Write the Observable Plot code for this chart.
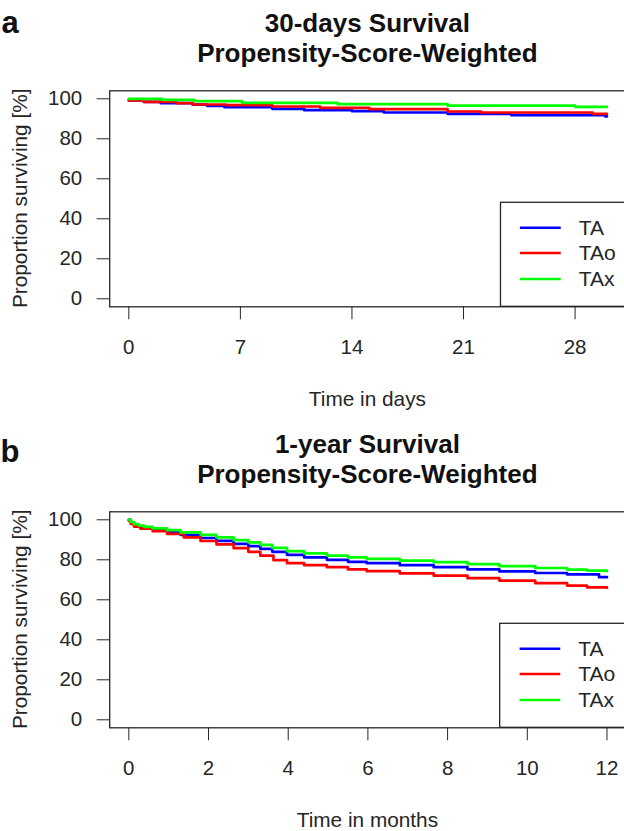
<!DOCTYPE html>
<html>
<head>
<meta charset="utf-8">
<script src="https://cdn.jsdelivr.net/npm/d3@7"></script>
<script src="https://cdn.jsdelivr.net/npm/@observablehq/plot@0.6"></script>
<style>
  html, body { margin: 0; padding: 0; background: #fff; }
  #wrap { position: relative; width: 624px; height: 831px; overflow: hidden; background: #fff; }
  .panel { position: absolute; left: 0; width: 630px; height: 420px; }
  .panel svg { position: absolute; left: 0; top: 0; overflow: visible; }
</style>
</head>
<body>
<div id="wrap"></div>
<script>
// ---------- data ----------
const groups = ["TA", "TAo", "TAx"];
const groupColors = ["#0000FF", "#FF0000", "#00FF00"];

// Panel a: 30-day survival (time in days, % surviving)
const d30_TA_time  = [0, 0.94, 2.0, 4.0, 4.9, 6.0, 9.0, 11.0, 14.0, 16.0, 20.0, 24.0, 29.9, 30.0];
const d30_TA_surv  = [99.2, 98.5, 97.8, 97.1, 96.5, 95.8, 95.0, 94.3, 93.8, 93.15, 92.5, 91.8, 91.2, 91.2];
const d30_TAo_time = [0, 0.94, 3.0, 4.0, 6.1, 9.0, 12.0, 15.1, 20.0, 22.1, 29.1, 30.0];
const d30_TAo_surv = [99.2, 98.5, 97.8, 97.15, 96.8, 96.15, 95.5, 94.8, 93.65, 93.15, 92.5, 92.5];
const d30_TAx_time = [0, 2.1, 4.1, 7.1, 13.1, 20.0, 28.0, 30.0];
const d30_TAx_surv = [100, 99.5, 98.8, 98.0, 97.3, 96.6, 96.0, 96.0];

// Panel b: 1-year survival (time in months, % surviving)
const y1_TA_time  = [0, 0.05, 0.13, 0.25, 0.38, 0.6, 0.96, 1.3, 1.8, 2.2, 2.63, 3.0, 3.3, 3.6, 3.97, 4.4, 4.97, 5.5, 5.97, 6.8, 7.65, 8.5, 9.3, 10.2, 11.0, 11.8, 12.0];
const y1_TA_surv  = [100, 98.6, 97.4, 96.6, 95.9, 95.0, 93.9, 92.5, 90.9, 89.5, 88.0, 86.8, 85.5, 84.0, 82.5, 81.2, 80.0, 79.0, 78.3, 77.3, 76.3, 75.2, 74.2, 73.4, 72.7, 71.3, 71.3];
const y1_TAo_time = [0, 0.05, 0.13, 0.29, 0.6, 0.96, 1.38, 1.8, 2.2, 2.63, 3.0, 3.3, 3.63, 3.97, 4.4, 4.97, 5.5, 5.97, 6.8, 7.65, 8.5, 9.3, 10.2, 11.0, 11.5, 12.0];
const y1_TAo_surv = [99.5, 97.9, 96.6, 95.6, 94.3, 93.0, 91.2, 89.4, 87.7, 85.8, 84.0, 82.1, 79.8, 78.3, 77.3, 76.3, 75.2, 74.3, 73.2, 72.1, 70.8, 69.6, 68.3, 67.1, 66.2, 66.0];
const y1_TAx_time = [0, 0.05, 0.13, 0.25, 0.38, 0.6, 0.96, 1.3, 1.8, 2.2, 2.63, 3.0, 3.3, 3.6, 3.97, 4.4, 4.97, 5.5, 5.97, 6.8, 7.65, 8.5, 9.3, 10.2, 11.0, 11.5, 12.0];
const y1_TAx_surv = [100, 98.9, 97.8, 97.1, 96.5, 95.7, 94.8, 93.7, 92.5, 91.2, 89.8, 88.7, 87.5, 86.0, 84.3, 83.2, 82.1, 81.2, 80.5, 79.6, 78.8, 77.8, 76.8, 75.9, 75.1, 74.6, 74.3];

const yTicks = [0, 20, 40, 60, 80, 100];
const xTicksDays = [0, 7, 14, 21, 28];
const xTicksMonths = [0, 2, 4, 6, 8, 10, 12];

const panelLetters = ["a", "b"];
const titleLine1 = ["30-days Survival", "1-year Survival"];
const titleLine2 = "Propensity-Score-Weighted";
const xLabels = ["Time in days", "Time in months"];
const yLabel = "Proportion surviving [%]";

// ---------- helpers ----------
function rows(times, survs, g) {
  return times.map((t, i) => ({ t, s: survs[i], g }));
}
const FONT = "'Liberation Sans', Arial, Helvetica, sans-serif";

function makePanel(opts) {
  const { data, xDomain, xTicks, legendLeft, legendLineX1, legendLineX2, legendTextX,
          letter, letterY, t1, xLabel } = opts;
  const legendRows = groups.map((g, i) => ({ g, y: [35.5, 22.9, 9.9][i] }));
  const svg = Plot.plot({
    width: 630,
    height: 420,
    marginLeft: 109.2,
    marginRight: 4.4,
    marginTop: 90.3,
    marginBottom: 113.7,
    x: { domain: xDomain },
    y: { domain: [-4, 104] },
    color: { domain: groups, range: groupColors },
    style: { fontFamily: FONT, fontSize: "20.5px", color: "#262626", background: "white", overflow: "visible" },
    marks: [
      Plot.axisX({ ticks: xTicks, tickSize: 13, tickPadding: 20, label: null, tickFormat: d => String(d), fontSize: 20.5 }),
      Plot.axisY({ ticks: yTicks, tickSize: 12.5, tickPadding: 15, label: null, tickFormat: d => String(d), fontSize: 20.5 }),
      Plot.line(data, { x: "t", y: "s", z: "g", stroke: "g", curve: "step-after", strokeWidth: 2.7 }),
      Plot.rect([0], { x1: () => legendLeft, x2: () => xDomain[1], y1: () => -4, y2: () => 48, fill: "white", stroke: "#262626", strokeWidth: 1.3 }),
      Plot.ruleY(legendRows, { y: "y", x1: () => legendLineX1, x2: () => legendLineX2, stroke: "g", strokeWidth: 2.6 }),
      Plot.text(legendRows, { x: () => legendTextX, y: "y", text: "g", textAnchor: "start", fontSize: 21, fill: "#262626" }),
      Plot.frame({ stroke: "#262626", strokeWidth: 1.3 })
    ]
  });
  const s = d3.select(svg);
  s.append("text").attr("x", 10).attr("y", letterY)
    .attr("font-family", FONT).attr("font-size", 31).attr("font-weight", "bold").attr("fill", "#111").text(letter);
  s.append("text").attr("x", 367.4).attr("y", 31.5).attr("text-anchor", "middle")
    .attr("font-family", FONT).attr("font-size", 26).attr("font-weight", "bold").attr("fill", "#111").text(t1);
  s.append("text").attr("x", 367.4).attr("y", 61.9).attr("text-anchor", "middle")
    .attr("font-family", FONT).attr("font-size", 26).attr("font-weight", "bold").attr("fill", "#111").text(titleLine2);
  s.append("text").attr("x", 367.4).attr("y", 405.5).attr("text-anchor", "middle")
    .attr("font-family", FONT).attr("font-size", 20.8).attr("fill", "#262626").text(xLabel);
  s.append("text").attr("transform", "translate(26.7,198.3) rotate(-90)").attr("text-anchor", "middle")
    .attr("font-family", FONT).attr("font-size", 20.8).attr("fill", "#262626").text(yLabel);
  return svg;
}

const wrap = document.getElementById("wrap");

const dataA = [
  ...rows(d30_TA_time, d30_TA_surv, "TA"),
  ...rows(d30_TAo_time, d30_TAo_surv, "TAo"),
  ...rows(d30_TAx_time, d30_TAx_surv, "TAx")
];
const dataB = [
  ...rows(y1_TA_time, y1_TA_surv, "TA"),
  ...rows(y1_TAo_time, y1_TAo_surv, "TAo"),
  ...rows(y1_TAx_time, y1_TAx_surv, "TAx")
];

const pA = document.createElement("div");
pA.className = "panel"; pA.style.top = "0px";
pA.appendChild(makePanel({
  data: dataA, xDomain: [-1.2, 31.2], xTicks: xTicksDays,
  legendLeft: 23.35, legendLineX1: 24.57, legendLineX2: 27.13, legendTextX: 28.23,
  letter: panelLetters[0], letterY: 33.3, t1: titleLine1[0], xLabel: xLabels[0]
}));
wrap.appendChild(pA);

const pB = document.createElement("div");
pB.className = "panel"; pB.style.top = "420.6px";
pB.appendChild(makePanel({
  data: dataB, xDomain: [-0.48, 12.48], xTicks: xTicksMonths,
  legendLeft: 9.32, legendLineX1: 9.82, legendLineX2: 10.84, legendTextX: 11.28,
  letter: panelLetters[1], letterY: 41.2, t1: titleLine1[1], xLabel: xLabels[1]
}));
wrap.appendChild(pB);
</script>
</body>
</html>
